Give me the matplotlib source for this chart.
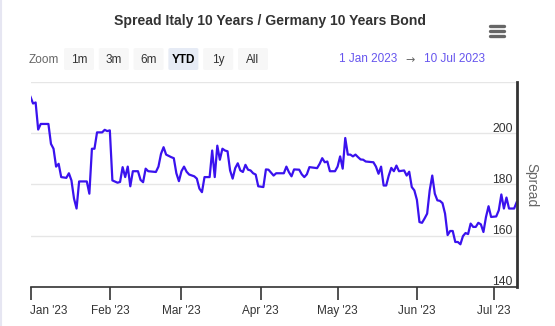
import numpy as np
import pandas as pd
import matplotlib
matplotlib.use('Agg')
import matplotlib.pyplot as plt
import matplotlib.dates as mdates
from matplotlib.patches import FancyBboxPatch
from matplotlib.lines import Line2D

plt.rcParams['font.family'] = ['Liberation Sans', 'DejaVu Sans']

# days since 1 Jan 2023 and spread values (bp)
days = [0, 1, 2, 3, 4, 7, 8, 9, 10, 11, 12, 14, 15, 16, 17, 18, 19, 22, 23, 24,
        25, 26, 28, 29, 30, 31, 32, 34, 35, 36, 37, 38, 39, 40, 42, 43, 44, 45, 46, 49,
        50, 51, 52, 53, 55, 56, 57, 58, 59, 60, 61, 62, 64, 65, 66, 67, 68, 70, 71, 72,
        73, 74, 75, 76, 77, 78, 79, 80, 81, 82, 83, 84, 85, 86, 87, 88, 89, 91, 92, 93,
        95, 96, 99, 100, 101, 102, 103, 105, 106, 107, 108, 109, 112, 113, 114, 115, 116, 117, 119, 120,
        121, 122, 123, 124, 125, 126, 127, 128, 129, 130, 131, 134, 135, 136, 137, 138, 139, 140, 141, 142,
        143, 144, 146, 147, 148, 149, 150, 151, 152, 153, 154, 155, 156, 157, 158, 159, 160, 161, 162, 163,
        164, 165, 166, 167, 168, 169, 170, 171, 172, 173, 174, 175, 176, 177, 178, 179, 180, 182, 183, 184,
        185, 186, 187, 189, 190]
spread = [214.3, 211.7, 212.1, 201.5, 203.7, 203.7, 195.9, 194.0, 187.0, 188.1, 182.9, 182.6, 184.4, 181.6, 174.5, 170.6, 181.2, 181.2, 176.4, 194.0,
          194.0, 200.4, 200.4, 201.4, 200.9, 201.2, 181.6, 180.7, 181.0, 186.8, 182.9, 187.0, 179.3, 185.2, 185.2, 181.8, 180.9, 186.2, 185.2, 184.9,
          187.0, 192.0, 194.6, 191.7, 190.7, 190.3, 184.4, 181.3, 185.2, 187.0, 185.0, 183.9, 183.2, 182.3, 178.4, 177.0, 182.9, 182.9, 193.3, 182.9,
          195.2, 189.7, 194.0, 193.3, 193.0, 185.5, 182.3, 186.4, 188.3, 185.5, 184.9, 187.7, 185.8, 185.5, 184.4, 183.9, 179.3, 179.0, 185.9, 185.8,
          183.5, 184.4, 184.4, 187.0, 184.8, 183.2, 185.9, 185.8, 184.0, 182.9, 184.0, 186.8, 186.4, 188.1, 190.3, 188.7, 189.0, 185.2, 185.2, 187.0,
          191.0, 186.2, 198.2, 191.7, 191.7, 191.0, 191.7, 190.7, 189.8, 189.7, 189.0, 188.7, 187.0, 184.2, 187.0, 179.6, 179.6, 183.5, 186.5, 185.2,
          187.4, 185.2, 185.5, 183.5, 185.0, 179.0, 177.7, 174.0, 165.3, 165.0, 166.7, 168.6, 177.7, 183.5, 176.4, 173.8, 173.6, 172.7, 168.6, 160.2,
          161.8, 161.8, 157.5, 157.5, 156.6, 159.8, 161.0, 160.6, 164.7, 163.4, 163.4, 165.0, 164.4, 161.4, 167.3, 171.5, 167.3, 167.5, 169.9, 176.1,
          170.6, 174.9, 170.6, 170.6, 173.1]

y_ticks = [140, 160, 180, 200, 220]
y_labels = ['140', '160', '180', '200']
zoom_buttons = ['1m', '3m', '6m', 'YTD', '1y', 'All']

dates = pd.Timestamp('2023-01-01') + pd.to_timedelta(days, unit='D')

W, H = 555, 326
fig = plt.figure(figsize=(W / 100, H / 100), dpi=100)
ax = fig.add_axes([30.5 / W, 1 - 286.7 / H, (516.7 - 30.5) / W, (286.7 - 82.3) / H])

ax.plot(dates, spread, color='#3a12ee', linewidth=1.6, solid_joinstyle='round')

ax.set_xlim(pd.Timestamp('2023-01-01'), pd.Timestamp('2023-07-10'))
ax.set_ylim(140, 220)
ax.set_yticks(y_ticks)
ax.yaxis.grid(True, color='#e6e6e6', linewidth=1)
ax.set_axisbelow(True)
ax.tick_params(axis='y', length=0, labelleft=False, labelright=False)

ax.xaxis.set_major_locator(mdates.MonthLocator())
ax.xaxis.set_major_formatter(mdates.DateFormatter("%b '%y"))
ax.tick_params(axis='x', length=9, width=1.2, color='#333333', labelsize=8.5,
               labelcolor='#333333', pad=4)
fig.canvas.draw()
ax.get_xticklabels()[0].set_horizontalalignment('left')

for s in ['top', 'left']:
    ax.spines[s].set_visible(False)
ax.spines['bottom'].set_color('#333333')
ax.spines['bottom'].set_linewidth(1.2)
ax.spines['right'].set_color('#333333')
ax.spines['right'].set_linewidth(2)

# y labels sit just above gridlines, inside the plot
for lab in y_labels:
    ax.annotate(lab, xy=(1, float(lab)), xycoords=('axes fraction', 'data'),
                xytext=(-3, -1.2), textcoords='offset points',
                ha='right', va='bottom', fontsize=8.7, color='#333333')

fig.text(531.5 / W, 1 - 185 / H, 'Spread', rotation=270, ha='center', va='center',
         fontsize=9.8, color='#666666')

fig.text(270 / W, 1 - 21.5 / H, 'Spread Italy 10 Years / Germany 10 Years Bond',
         ha='center', va='center', fontsize=10.1, fontweight='bold', color='#333333')

# hamburger menu icon
for yy in [26, 31, 36]:
    fig.add_artist(Line2D([490 / W, 504 / W], [1 - yy / H, 1 - yy / H],
                          color='#666666', linewidth=2.4, solid_capstyle='round'))

# range selector
fig.text(29 / W, 1 - 60 / H, 'Zoom', ha='left', va='center', fontsize=8.5, color='#666666')
bx = 64
for b in zoom_buttons:
    active = b == 'YTD'
    rect = FancyBboxPatch((bx / W, 1 - 70 / H), 30 / W, 22 / H,
                          boxstyle='round,pad=0,rounding_size=0.004',
                          transform=fig.transFigure,
                          facecolor='#e6ebf5' if active else '#f7f7f7',
                          edgecolor='none')
    fig.add_artist(rect)
    fig.text((bx + 15) / W, 1 - 60 / H, b, ha='center', va='center', fontsize=8.5,
             color='#000000' if active else '#333333',
             fontweight='bold' if active else 'normal')
    bx += 34.8

fig.text(368.5 / W, 1 - 59 / H, '1 Jan 2023', ha='center', va='center', fontsize=8.5, color='#6655ee')
fig.text(410 / W, 1 - 60 / H, '\u2192', ha='center', va='center', fontsize=8, color='#666666',
         family=['DejaVu Sans'])
fig.text(454 / W, 1 - 59 / H, '10 Jul 2023', ha='center', va='center', fontsize=8.5, color='#6655ee')

# faint left border
fig.add_artist(Line2D([0.6 / W, 0.6 / W], [0, 1], color='#e6e6f2', linewidth=1.5))

fig.savefig('out.png', dpi=100, facecolor='white')
